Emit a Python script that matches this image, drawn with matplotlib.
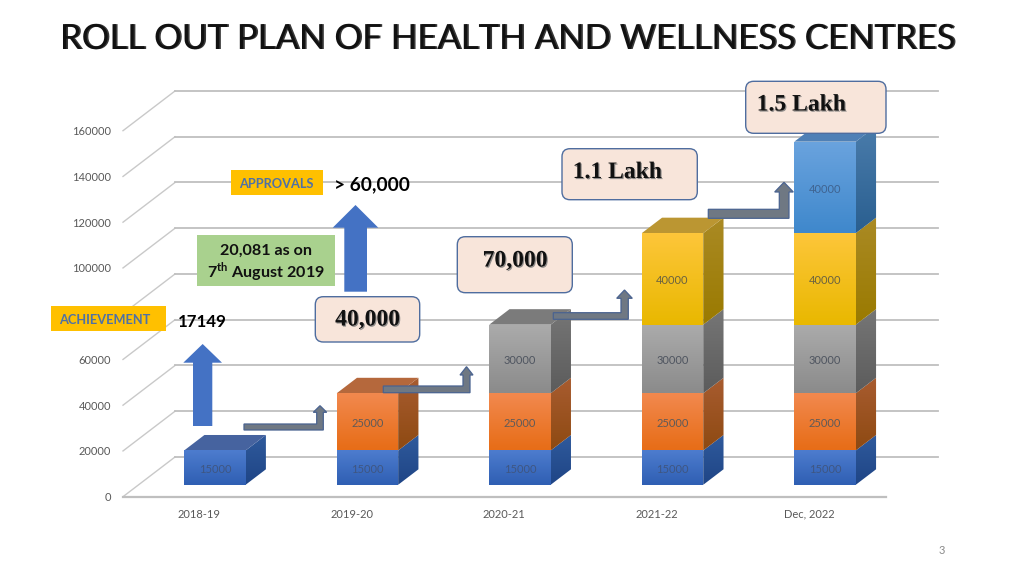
import matplotlib
matplotlib.use('Agg')
import matplotlib.patheffects as pe
import matplotlib.pyplot as plt
import numpy as np
from matplotlib.colors import LinearSegmentedColormap
from matplotlib.patches import FancyBboxPatch, Polygon, Rectangle

categories = ['2018-19', '2019-20', '2020-21', '2021-22', 'Dec, 2022']
phase_1 = [15000, 15000, 15000, 15000, 15000]
phase_2 = [0, 25000, 25000, 25000, 25000]
phase_3 = [0, 0, 30000, 30000, 30000]
phase_4 = [0, 0, 0, 40000, 40000]
phase_5 = [0, 0, 0, 0, 40000]
y_ticks = [0, 20000, 40000, 60000, 80000, 100000, 120000, 140000, 160000]
# 80000 sits under the ACHIEVEMENT box on the slide
y_tick_labels = ['0', '20000', '40000', '60000', '', '100000', '120000', '140000', '160000']

plt.rcParams['font.family'] = ['Lato', 'DejaVu Sans']
plt.rcParams['mathtext.fontset'] = 'custom'
plt.rcParams['mathtext.bf'] = 'Lato:bold'

# front top, front bottom, side top, side bottom, lid, label colour
colours = [
    ('#4d7cce', '#2f5fb3', '#2f5a9c', '#1f4586', '#46639f', '#3f5682'),
    ('#f2894f', '#e76d17', '#a85c30', '#8e4a12', '#b5683c', '#5f5a58'),
    ('#ababab', '#8b8b8b', '#767676', '#5c5c5c', '#7b7b7b', '#4f5560'),
    ('#fdc63a', '#e9b800', '#aa8a24', '#9a7a00', '#bb9632', '#6a6240'),
    ('#6aa3de', '#3f88cc', '#4a7cab', '#2a5f90', '#4f80b6', '#3f6390'),
]
BAR_W = 0.403
DEPTH_X = 0.341
DEPTH_Y = 17360
D_FRONT = 0.30
D_BACK = 0.69


def project(x, v, d):
    return x + DEPTH_X * d, v + DEPTH_Y * d


def shaded(ax, verts, top, bottom, z):
    cmap = LinearSegmentedColormap.from_list('s', [top, bottom])
    xs = [p[0] for p in verts]
    ys = [p[1] for p in verts]
    im = ax.imshow(np.linspace(0, 1, 64)[:, None], cmap=cmap, aspect='auto', zorder=z,
                   extent=[min(xs), max(xs), min(ys), max(ys)], interpolation='bilinear')
    im.set_clip_path(Polygon(verts, transform=ax.transData))


fig = plt.figure(figsize=(10.24, 5.76), dpi=100)

# chart front plane
ax = fig.add_axes([123 / 1024, 1 - 496.7 / 576, 762.7 / 1024, 366 / 576])
ax.patch.set_alpha(0)

for t in y_ticks:
    x0, y0 = project(-0.5, t, 0)
    x1, y1 = project(-0.5, t, 1)
    x2, y2 = project(4.5, t, 1)
    ax.plot([x0, x1], [y0, y1], color='#c9c9c9', lw=1, zorder=1, clip_on=False)
    ax.plot([x1, x2], [y1, y2], color='#bfbfbf', lw=1.3, zorder=1, clip_on=False)

series = [phase_1, phase_2, phase_3, phase_4, phase_5]
for i in range(len(categories)):
    base = 0
    tops = sum(s[i] for s in series)
    for k, s in enumerate(series):
        val = s[i]
        if val == 0:
            continue
        c = colours[k]
        left = i - BAR_W / 2
        right = i + BAR_W / 2
        f = [project(left, base, D_FRONT), project(right, base, D_FRONT),
             project(right, base + val, D_FRONT), project(left, base + val, D_FRONT)]
        sd = [project(right, base, D_FRONT), project(right, base, D_BACK),
              project(right, base + val, D_BACK), project(right, base + val, D_FRONT)]
        shaded(ax, sd, c[2], c[3], 3)
        shaded(ax, f, c[0], c[1], 4)
        if base + val == tops:
            lid = [project(left, tops, D_FRONT), project(right, tops, D_FRONT),
                   project(right, tops, D_BACK), project(left, tops, D_BACK)]
            ax.add_patch(Polygon(lid, facecolor=c[4], edgecolor='none', zorder=3, clip_on=False))
        ax.annotate(str(val), project(i, base + val / 2, D_FRONT), xytext=(0, -1.2),
                    textcoords='offset points', ha='center', va='center', fontsize=8,
                    color=c[5], zorder=5)
        base += val

ax.set_xlim(-0.5, 4.5)
ax.set_ylim(0, 160000)
ax.set_xticks(range(len(categories)))
ax.set_xticklabels(categories)
ax.set_yticks(y_ticks)
ax.set_yticklabels(y_tick_labels)
ax.tick_params(axis='both', length=0, labelsize=8, labelcolor='#595959')
ax.tick_params(axis='x', pad=8.5)
ax.tick_params(axis='y', pad=8.5)
for name in ['top', 'left', 'right']:
    ax.spines[name].set_visible(False)
ax.spines['bottom'].set_color('#bfbfbf')
ax.spines['bottom'].set_linewidth(1.6)

# annotation layer, pixel coordinates of the slide
ov = fig.add_axes([0, 0, 1, 1])
ov.set_xlim(0, 1024)
ov.set_ylim(576, 0)
ov.axis('off')


def up_arrow(xa, xb, shaft_bottom, head_base, ha, hb, tip):
    mid = (ha + hb) / 2
    pts = [(xa, shaft_bottom), (xa, head_base), (ha, head_base), (mid, tip),
           (hb, head_base), (xb, head_base), (xb, shaft_bottom)]
    ov.add_patch(Polygon(pts, facecolor='#4472c4', edgecolor='none', zorder=6))


def bent_arrow(left, ytop, ybot, va, vb, head_base, ha, hb, tip):
    pts = [(left, ytop), (va, ytop), (va, head_base), (ha, head_base), ((ha + hb) / 2, tip),
           (hb, head_base), (vb, head_base), (vb, ybot), (left, ybot)]
    ov.add_patch(Polygon(pts, facecolor='#6f7883', edgecolor='#4a6390', lw=0.9, zorder=6))


def round_box(x0, y0, x1, y1):
    ov.add_patch(FancyBboxPatch((x0 + 7, y0 + 7), x1 - x0 - 14, y1 - y0 - 14,
                                boxstyle='round,pad=7,rounding_size=8', facecolor='#f8e5da',
                                edgecolor='#4f6d9f', lw=1, zorder=7))


def serif_label(x, y, s, ha='center'):
    ov.text(x, y, s, ha=ha, va='center', fontsize=17, fontweight='bold', color='#111111',
            family='Liberation Serif', zorder=8,
            path_effects=[pe.SimplePatchShadow(offset=(0.8, -0.8), shadow_rgbFace='#777777', alpha=0.8),
                          pe.Normal()])


up_arrow(193, 212.3, 426, 362.7, 183.3, 222, 344)
up_arrow(344.3, 367, 291.7, 227.7, 332.7, 378.3, 205)

bent_arrow(244, 424, 430, 316.7, 323.3, 412.3, 313.3, 326.7, 405.7)
bent_arrow(383.3, 386, 392.7, 463, 470, 375, 460, 473, 366.7)
bent_arrow(553.3, 312.7, 319.3, 621, 628.3, 298.3, 616.7, 632.3, 290)
bent_arrow(708.3, 209.3, 218.3, 779.3, 789, 192, 774.7, 793.3, 182.3)

round_box(745.7, 81.3, 886, 133.3)
serif_label(756.7, 105, '1.5 Lakh', ha='left')
round_box(562, 148.7, 697.3, 199.7)
serif_label(572.7, 172.5, '1.1 Lakh', ha='left')
round_box(457.3, 236.7, 572.3, 292.7)
serif_label(515, 261, '70,000')
round_box(315.3, 296.7, 419.7, 342)
serif_label(367.5, 320, '40,000')

ov.add_patch(Rectangle((231.3, 170), 92, 25.3, facecolor='#ffc000', edgecolor='none', zorder=7))
ov.text(276, 184, 'APPROVALS', ha='center', va='center', fontsize=9.2, fontweight='bold',
        color='#4f71a6', zorder=8)
ov.add_patch(Rectangle((51, 306), 115, 25, facecolor='#ffc000', edgecolor='none', zorder=7))
ov.text(104.5, 320, 'ACHIEVEMENT', ha='center', va='center', fontsize=9.2, fontweight='bold',
        color='#4f71a6', zorder=8)
ov.add_patch(Rectangle((197, 234.7), 138.3, 51, facecolor='#a9d18e', edgecolor='none', zorder=7))
ov.text(266, 251, '20,081 as on', ha='center', va='center', fontsize=11.6, fontweight='bold',
        color='#111111', zorder=8)
ov.text(266, 272, r'7$^{\mathbf{th}}$ August 2019', ha='center', va='center', fontsize=11.6,
        fontweight='bold', color='#111111', zorder=8)
ov.text(334, 185, '> 60,000', ha='left', va='center', fontsize=13.8, fontweight='bold',
        color='#000000', zorder=8)
ov.text(178, 322, '17149', ha='left', va='center', fontsize=12.2, fontweight='bold',
        color='#000000', zorder=8)

ov.text(507, 39, 'ROLL OUT PLAN OF HEALTH AND WELLNESS CENTRES', ha='center', va='center',
        fontsize=25, color='#111111', zorder=8,
        path_effects=[pe.SimplePatchShadow(offset=(1.2, 0), shadow_rgbFace='#222222', alpha=0.9),
                      pe.Normal()])
ov.text(942, 550, '3', ha='center', va='center', fontsize=8, color='#8a8a8a', zorder=8)

fig.savefig('out.png', dpi=100)
